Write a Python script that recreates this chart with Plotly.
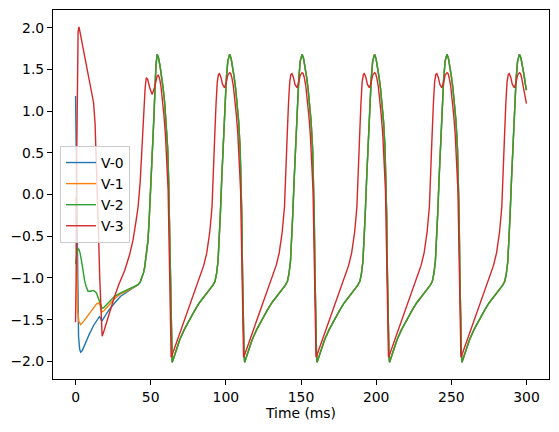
import plotly.graph_objects as go

# ---------------- data ----------------
# V-0 (blue) early transient; afterwards it lies under V-2
v0_t_early = [0, 0.4, 0.8, 1.3, 2, 2.7, 3.4, 4.5, 6, 9, 12, 14.5, 16, 17.4, 19, 22, 26, 30, 35, 40]
v0_v_early = [1.18, 0.5, -0.5, -1.3, -1.70, -1.85, -1.89, -1.87, -1.80, -1.68, -1.57, -1.49, -1.46, -1.52,
              -1.47, -1.39, -1.30, -1.22, -1.16, -1.10]

# V-1 (orange) early transient; afterwards it lies under V-2
v1_t_early = [0, 0.4, 0.8, 1.4, 2.2, 3.4, 5, 7, 9, 12, 14, 15.4, 16.5, 17.4, 19, 22, 26, 30, 35, 40]
v1_v_early = [-0.03, -0.6, -1.1, -1.4, -1.52, -1.56, -1.53, -1.48, -1.43, -1.36, -1.31, -1.30, -1.34, -1.41,
              -1.39, -1.33, -1.25, -1.19, -1.15, -1.10]

# V-2 (green)
v2_t = [
    0, 0.5, 1.2, 2.1, 3, 4, 5, 6, 7, 8.3, 10, 12, 13.9, 15.2, 16.4, 17.6, 18.5, 20, 22, 26, 30, 34.9, 38, 41.6,
    43, 44.2, 45.2, 46, 47, 48.2, 49, 50, 50.8, 51.5, 52.2, 52.8, 53.5,
    54.3, 55.3, 56.3, 57.3, 58.3, 59.3, 60.3, 61.3, 61.9, 62.4, 62.9, 63.4, 63.9, 64.3, 65.3, 67.3, 69.3, 72.3,
    75.8, 79.3, 82.3, 85.8, 89.3, 91.3, 92.8, 93.8, 94.8, 95.6, 96.3, 97.3, 98.3, 99.3, 100.3, 101.3,
    102.5, 103.5, 104.5, 105.5, 106.5, 107.5, 108.5, 109.5, 110.1, 110.6, 111.1, 111.6, 112.1, 112.5, 113.5,
    115.5, 117.5, 120.5, 124.0, 127.5, 130.5, 134.0, 137.5, 139.5, 141.0, 142.0, 143.0, 143.8, 144.5, 145.5,
    146.5, 147.5, 148.5, 149.5,
    150.7, 151.7, 152.7, 153.7, 154.7, 155.7, 156.7, 157.7, 158.3, 158.8, 159.3, 159.8, 160.3, 160.7, 161.7,
    163.7, 165.7, 168.7, 172.2, 175.7, 178.7, 182.2, 185.7, 187.7, 189.2, 190.2, 191.2, 192.0, 192.7, 193.7,
    194.7, 195.7, 196.7, 197.7,
    198.9, 199.9, 200.9, 201.9, 202.9, 203.9, 204.9, 205.9, 206.5, 207.0, 207.5, 208.0, 208.5, 208.9, 209.9,
    211.9, 213.9, 216.9, 220.4, 223.9, 226.9, 230.4, 233.9, 235.9, 237.4, 238.4, 239.4, 240.2, 240.9, 241.9,
    242.9, 243.9, 244.9, 245.9,
    247.1, 248.1, 249.1, 250.1, 251.1, 252.1, 253.1, 254.1, 254.7, 255.2, 255.7, 256.2, 256.7, 257.1, 258.1,
    260.1, 262.1, 265.1, 268.6, 272.1, 275.1, 278.6, 282.1, 284.1, 285.6, 286.6, 287.6, 288.4, 289.1, 290.1,
    291.1, 292.1, 293.1, 294.1,
    295.3, 296.3, 297.3, 298.3, 299.3, 300,
]
v2_v = [
    -0.83, -0.74, -0.67, -0.65, -0.70, -0.80, -0.92, -1.03, -1.10, -1.16, -1.16, -1.15, -1.18, -1.24, -1.31,
    -1.36, -1.36, -1.33, -1.29, -1.22, -1.18, -1.14, -1.11, -1.08, -1.05, -1.00, -0.94, -0.87, -0.75, -0.55,
    -0.30, 0.05, 0.35, 0.65, 0.95, 1.24, 1.55,
    1.68, 1.63, 1.53, 1.41, 1.27, 1.10, 0.88, 0.55, 0.20, -0.25, -0.95, -1.55, -1.90, -2.01, -1.96, -1.84,
    -1.74, -1.62, -1.50, -1.39, -1.30, -1.22, -1.14, -1.09, -1.04, -0.95, -0.80, -0.55, -0.25, 0.20, 0.65,
    1.05, 1.38, 1.60,
    1.68, 1.63, 1.53, 1.41, 1.27, 1.10, 0.88, 0.55, 0.20, -0.25, -0.95, -1.55, -1.90, -2.01, -1.96, -1.84,
    -1.74, -1.62, -1.50, -1.39, -1.30, -1.22, -1.14, -1.09, -1.04, -0.95, -0.80, -0.55, -0.25, 0.20, 0.65,
    1.05, 1.38, 1.60,
    1.68, 1.63, 1.53, 1.41, 1.27, 1.10, 0.88, 0.55, 0.20, -0.25, -0.95, -1.55, -1.90, -2.01, -1.96, -1.84,
    -1.74, -1.62, -1.50, -1.39, -1.30, -1.22, -1.14, -1.09, -1.04, -0.95, -0.80, -0.55, -0.25, 0.20, 0.65,
    1.05, 1.38, 1.60,
    1.68, 1.63, 1.53, 1.41, 1.27, 1.10, 0.88, 0.55, 0.20, -0.25, -0.95, -1.55, -1.90, -2.01, -1.96, -1.84,
    -1.74, -1.62, -1.50, -1.39, -1.30, -1.22, -1.14, -1.09, -1.04, -0.95, -0.80, -0.55, -0.25, 0.20, 0.65,
    1.05, 1.38, 1.60,
    1.68, 1.63, 1.53, 1.41, 1.27, 1.10, 0.88, 0.55, 0.20, -0.25, -0.95, -1.55, -1.90, -2.01, -1.96, -1.84,
    -1.74, -1.62, -1.50, -1.39, -1.30, -1.22, -1.14, -1.09, -1.04, -0.95, -0.80, -0.55, -0.25, 0.20, 0.65,
    1.05, 1.38, 1.60,
    1.68, 1.64, 1.55, 1.44, 1.32, 1.25,
]

# V-3 (red)
v3_t = [
    0, 0.4, 0.8, 1.2, 1.7, 2.3, 4, 6, 8, 10.5, 12, 13, 13.8, 14.6, 15.4, 16.1, 16.7, 17.2, 17.7, 19, 22, 26,
    29, 32.7, 36, 38.2, 40, 41.6, 43, 43.8, 44.8, 45.6, 46.3, 47.1, 48, 49.5, 51, 52.5, 53.5,
    54.3, 55.0, 55.8, 56.8, 57.8, 58.8, 59.8, 60.8, 61.6, 62.2, 62.7, 63.2, 63.6, 64.3, 66.3, 69.3, 72.3, 75.8,
    79.3, 82.3, 85.3, 87.3, 89.3, 90.8, 91.6, 92.6, 93.5, 94.3, 95.1, 95.8, 96.8, 97.8, 99.1, 100.1, 101.3,
    102.5, 103.2, 104.0, 105.0, 106.0, 107.0, 108.0, 109.0, 109.8, 110.4, 110.9, 111.4, 111.8, 112.5, 114.5,
    117.5, 120.5, 124.0, 127.5, 130.5, 133.5, 135.5, 137.5, 139.0, 139.8, 140.8, 141.7, 142.5, 143.3, 144.0,
    145.0, 146.0, 147.3, 148.3, 149.5,
    150.7, 151.4, 152.2, 153.2, 154.2, 155.2, 156.2, 157.2, 158.0, 158.6, 159.1, 159.6, 160.0, 160.7, 162.7,
    165.7, 168.7, 172.2, 175.7, 178.7, 181.7, 183.7, 185.7, 187.2, 188.0, 189.0, 189.9, 190.7, 191.5, 192.2,
    193.2, 194.2, 195.5, 196.5, 197.7,
    198.9, 199.6, 200.4, 201.4, 202.4, 203.4, 204.4, 205.4, 206.2, 206.8, 207.3, 207.8, 208.2, 208.9, 210.9,
    213.9, 216.9, 220.4, 223.9, 226.9, 229.9, 231.9, 233.9, 235.4, 236.2, 237.2, 238.1, 238.9, 239.7, 240.4,
    241.4, 242.4, 243.7, 244.7, 245.9,
    247.1, 247.8, 248.6, 249.6, 250.6, 251.6, 252.6, 253.6, 254.4, 255.0, 255.5, 256.0, 256.4, 257.1, 259.1,
    262.1, 265.1, 268.6, 272.1, 275.1, 278.1, 280.1, 282.1, 283.6, 284.4, 285.4, 286.3, 287.1, 287.9, 288.6,
    289.6, 290.6, 291.9, 292.9, 294.1,
    295.3, 296.0, 296.8, 297.8, 298.8, 300,
]
v3_v = [
    -1.53, -1.0, 0.5, 1.6, 1.95, 2.01, 1.85, 1.67, 1.48, 1.24, 1.10, 0.85, 0.45, 0.0, -0.55, -1.0, -1.34, -1.60,
    -1.70, -1.63, -1.45, -1.22, -1.07, -0.91, -0.72, -0.55, -0.35, -0.15, 0.15, 0.45, 0.80, 1.04, 1.28, 1.40,
    1.38, 1.27, 1.20, 1.28, 1.37,
    1.42, 1.43, 1.40, 1.30, 1.15, 0.95, 0.72, 0.42, 0.05, -0.55, -1.20, -1.70, -1.95, -1.92, -1.82, -1.66,
    -1.52, -1.34, -1.17, -1.02, -0.85, -0.70, -0.45, -0.15, 0.15, 0.70, 1.10, 1.35, 1.44, 1.45, 1.40, 1.32,
    1.28, 1.33, 1.43,
    1.46, 1.45, 1.40, 1.30, 1.15, 0.95, 0.72, 0.42, 0.05, -0.55, -1.20, -1.70, -1.95, -1.92, -1.82, -1.66,
    -1.52, -1.34, -1.17, -1.02, -0.85, -0.70, -0.45, -0.15, 0.15, 0.70, 1.10, 1.35, 1.44, 1.45, 1.40, 1.32,
    1.28, 1.33, 1.43,
    1.46, 1.45, 1.40, 1.30, 1.15, 0.95, 0.72, 0.42, 0.05, -0.55, -1.20, -1.70, -1.95, -1.92, -1.82, -1.66,
    -1.52, -1.34, -1.17, -1.02, -0.85, -0.70, -0.45, -0.15, 0.15, 0.70, 1.10, 1.35, 1.44, 1.45, 1.40, 1.32,
    1.28, 1.33, 1.43,
    1.46, 1.45, 1.40, 1.30, 1.15, 0.95, 0.72, 0.42, 0.05, -0.55, -1.20, -1.70, -1.95, -1.92, -1.82, -1.66,
    -1.52, -1.34, -1.17, -1.02, -0.85, -0.70, -0.45, -0.15, 0.15, 0.70, 1.10, 1.35, 1.44, 1.45, 1.40, 1.32,
    1.28, 1.33, 1.43,
    1.46, 1.45, 1.40, 1.30, 1.15, 0.95, 0.72, 0.42, 0.05, -0.55, -1.20, -1.70, -1.95, -1.92, -1.82, -1.66,
    -1.52, -1.34, -1.17, -1.02, -0.85, -0.70, -0.45, -0.15, 0.15, 0.70, 1.10, 1.35, 1.44, 1.45, 1.40, 1.32,
    1.28, 1.33, 1.43,
    1.46, 1.45, 1.40, 1.30, 1.20, 1.09,
]

series_names = ["V-0", "V-1", "V-2", "V-3"]
series_colors = ["#1f77b4", "#ff7f0e", "#2ca02c", "#d62728"]
x_ticks = [0, 50, 100, 150, 200, 250, 300]
y_ticks = [-2.0, -1.5, -1.0, -0.5, 0.0, 0.5, 1.0, 1.5, 2.0]

# after ~41 ms V-0 and V-1 coincide with V-2 (hidden beneath it)
tail = [(t, v) for t, v in zip(v2_t, v2_v) if t > 41]
v0_t = v0_t_early + [p[0] for p in tail]
v0_v = v0_v_early + [p[1] for p in tail]
v1_t = v1_t_early + [p[0] for p in tail]
v1_v = v1_v_early + [p[1] for p in tail]

xs = [v0_t, v1_t, v2_t, v3_t]
ys = [v0_v, v1_v, v2_v, v3_v]

fig = go.Figure()
for name, col, x, y in zip(series_names, series_colors, xs, ys):
    fig.add_trace(go.Scatter(x=x, y=y, mode="lines", name=name,
                             line=dict(color=col, width=1.4)))

FONT = "DejaVu Sans, Verdana, sans-serif"
axis_common = dict(showline=True, mirror=True, linecolor="black", linewidth=1.1,
                   ticks="outside", ticklen=5, tickwidth=1.1, tickcolor="black",
                   showgrid=False, zeroline=False,
                   tickfont=dict(family=FONT, size=13.9, color="black"))

fig.update_layout(
    width=559, height=432,
    margin=dict(l=53, r=10, t=9.5, b=52.5),
    paper_bgcolor="white", plot_bgcolor="white",
    font=dict(family=FONT, size=13.9, color="black"),
    xaxis=dict(range=[-15, 315], tickmode="array", tickvals=x_ticks,
               title=dict(text="Time (ms)", font=dict(family=FONT, size=13.9), standoff=4),
               **axis_common),
    yaxis=dict(range=[-2.2115, 2.2115], tickmode="array", tickvals=y_ticks, tickformat=".1f",
               **axis_common),
    legend=dict(x=0.0141, y=0.5, xanchor="left", yanchor="middle",
                bgcolor="rgba(255,255,255,0.8)", bordercolor="#cccccc", borderwidth=1,
                font=dict(family=FONT, size=13.9, color="black"), itemwidth=30,
                tracegroupgap=0),
    showlegend=True,
)

fig.write_html("out.html")
